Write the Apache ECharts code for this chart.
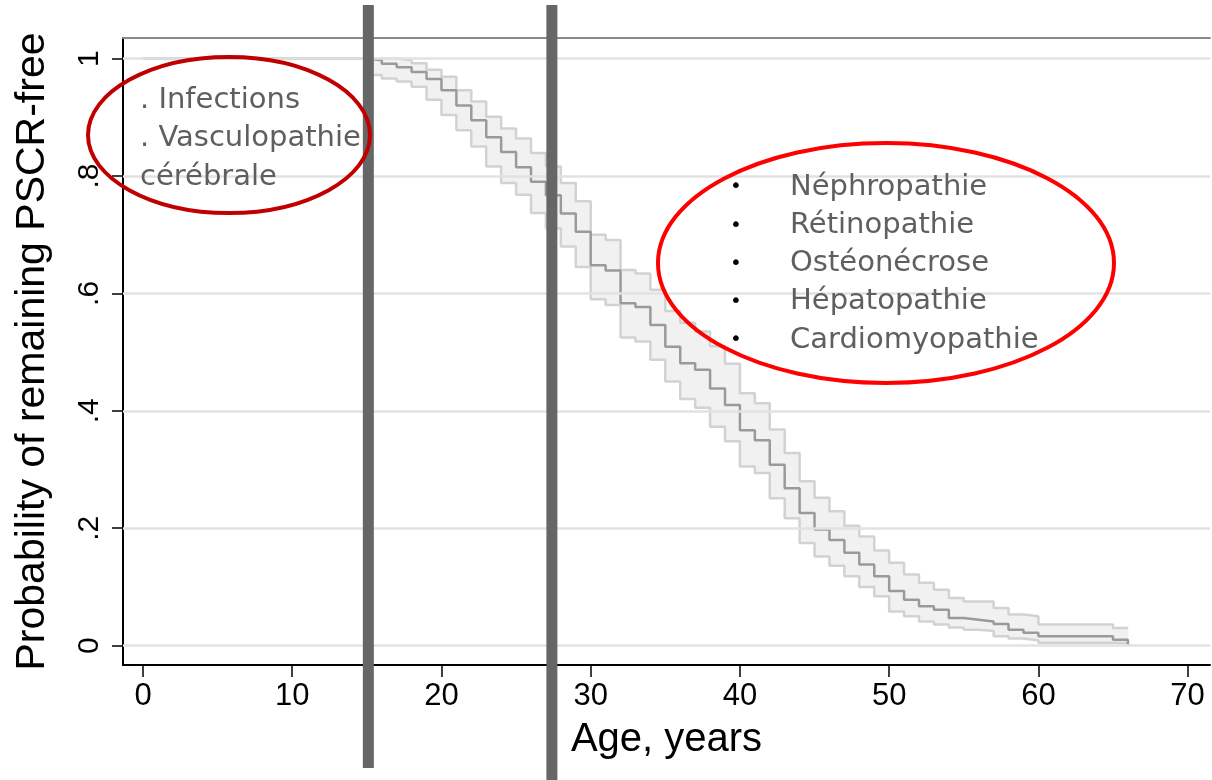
<!DOCTYPE html>
<html>
<head>
<meta charset="utf-8">
<script src="https://cdn.jsdelivr.net/npm/echarts@6/dist/echarts.min.js"></script>
<style>
  html, body { margin: 0; padding: 0; background: #fff; }
  #main { width: 1212px; height: 780px; }
</style>
</head>
<body>
<div id="main"></div>
<script>
// ages where the Kaplan-Meier curve steps (years)
var ages = [15, 16, 17, 18, 19, 20, 21, 22, 23, 24, 25, 26, 27, 28, 29, 30, 31, 32, 33, 34, 35,
  36, 37, 38, 39, 40, 41, 42, 43, 44, 45, 46, 47, 48, 49, 50, 51, 52, 53, 54, 55, 56, 57, 58,
  59, 60, 65, 66];
// survival estimate
var survival = [0.997, 0.991, 0.985, 0.977, 0.965, 0.946, 0.920, 0.895, 0.866, 0.841, 0.815, 0.790,
  0.767, 0.736, 0.705, 0.648, 0.639, 0.583, 0.577, 0.546, 0.509, 0.481, 0.470, 0.438, 0.410,
  0.367, 0.350, 0.308, 0.268, 0.226, 0.198, 0.180, 0.158, 0.138, 0.118, 0.093, 0.078, 0.067,
  0.061, 0.047, 0.044, 0.041, 0.037, 0.027, 0.022, 0.016, 0.010, 0.000];
// 95% confidence band
var upperCI = [1.000, 1.000, 0.997, 0.992, 0.981, 0.969, 0.946, 0.927, 0.901, 0.881, 0.864, 0.839,
  0.816, 0.788, 0.757, 0.700, 0.691, 0.640, 0.634, 0.606, 0.570, 0.550, 0.535, 0.510, 0.480,
  0.430, 0.413, 0.368, 0.328, 0.280, 0.252, 0.229, 0.204, 0.186, 0.162, 0.141, 0.121, 0.107,
  0.095, 0.081, 0.075, 0.075, 0.064, 0.053, 0.050, 0.036, 0.030, 0.030];
var lowerCI = [0.972, 0.966, 0.961, 0.952, 0.930, 0.904, 0.878, 0.850, 0.816, 0.788, 0.768, 0.737,
  0.711, 0.680, 0.645, 0.590, 0.580, 0.525, 0.518, 0.487, 0.450, 0.420, 0.405, 0.373, 0.348,
  0.305, 0.294, 0.251, 0.217, 0.175, 0.152, 0.136, 0.118, 0.100, 0.084, 0.058, 0.050, 0.041,
  0.036, 0.031, 0.027, 0.025, 0.016, 0.012, 0.009, 0.005, 0.004, 0.004];

var xTicks = [0, 10, 20, 30, 40, 50, 60, 70];
var yTicks = [0, 0.2, 0.4, 0.6, 0.8, 1];
var yTickLabels = ['0', '.2', '.4', '.6', '.8', '1'];

// the two age cut-offs (thick grey bars)
var cutAges = [15.1, 27.4];

var leftNotes = ['. Infections', '. Vasculopathie', 'cérébrale'];
var rightNotes = ['Néphropathie', 'Rétinopathie', 'Ostéonécrose', 'Hépatopathie', 'Cardiomyopathie'];

var myChart = echarts.init(document.getElementById('main'));

var mainData = [[0, 1]];
ages.forEach(function (a, i) { mainData.push([a, survival[i]]); });
var lowerData = ages.map(function (a, i) { return [a, lowerCI[i]]; });
var upperData = ages.map(function (a, i) { return [a, upperCI[i]]; });
// one band cell per step: [start age, end age, lower, upper]
var bandData = [];
for (var i = 0; i < ages.length - 1; i++) {
  bandData.push([ages[i], ages[i + 1], lowerCI[i], upperCI[i]]);
}

var xMin = -1.34, xMax = 71.5;
var yMin = -0.033, yMax = 1.035;

var option = {
  animation: false,
  grid: { left: 123, top: 38, right: 2, bottom: 115 },
  xAxis: [{
    type: 'value', min: xMin, max: xMax,
    name: 'Age, years', nameLocation: 'middle', nameGap: 55,
    nameTextStyle: { fontFamily: 'Liberation Sans', fontSize: 40, color: '#000' },
    axisLine: { show: true, onZero: false, lineStyle: { color: '#000', width: 2 } },
    axisTick: { show: true, length: 12, customValues: xTicks, lineStyle: { color: '#000', width: 1.5 } },
    axisLabel: { customValues: xTicks, margin: 16, fontFamily: 'Liberation Sans', fontSize: 31, color: '#000' },
    splitLine: { show: false }
  }, {
    type: 'value', min: xMin, max: xMax, position: 'top',
    axisLine: { show: true, onZero: false, lineStyle: { color: '#8a8a8a', width: 2 } },
    axisTick: { show: false }, axisLabel: { show: false }, splitLine: { show: false }
  }],
  yAxis: {
    type: 'value', min: yMin, max: yMax,
    name: 'Probability of remaining PSCR-free', nameLocation: 'middle', nameGap: 70, nameRotate: 90,
    nameTextStyle: { fontFamily: 'Liberation Sans', fontSize: 41, color: '#000' },
    axisLine: { show: true, onZero: false, lineStyle: { color: '#000', width: 2 } },
    axisTick: { show: true, length: 11, customValues: yTicks, lineStyle: { color: '#000', width: 1.5 } },
    axisLabel: {
      customValues: yTicks, rotate: 90, margin: 18,
      fontFamily: 'Liberation Sans', fontSize: 30, color: '#000',
      formatter: function (v) {
        for (var i = 0; i < yTicks.length; i++) {
          if (Math.abs(yTicks[i] - v) < 1e-6) return yTickLabels[i];
        }
        return '';
      }
    },
    splitLine: { show: false }
  },
  series: [
    {
      // gridlines
      type: 'line', data: [], z: 1, silent: true,
      markLine: {
        silent: true, symbol: 'none', label: { show: false },
        lineStyle: { color: '#e2e2e2', width: 2.5, type: 'solid' },
        data: yTicks.map(function (v) { return { yAxis: v }; })
      }
    },
    {
      // shaded confidence band
      type: 'custom', z: 2, silent: true, data: bandData,
      renderItem: function (params, api) {
        var p1 = api.coord([api.value(0), api.value(3)]);
        var p2 = api.coord([api.value(1), api.value(2)]);
        return {
          type: 'rect',
          shape: { x: p1[0] - 0.5, y: p1[1], width: p2[0] - p1[0] + 1, height: p2[1] - p1[1] },
          style: { fill: '#f1f1f1' }
        };
      }
    },
    {
      name: 'lower', type: 'line', step: 'end', z: 3,
      showSymbol: false, symbol: 'none', data: lowerData,
      lineStyle: { color: '#d2d2d2', width: 2.5 }
    },
    {
      name: 'upper', type: 'line', step: 'end', z: 3,
      showSymbol: false, symbol: 'none', data: upperData,
      lineStyle: { color: '#d2d2d2', width: 2.5 }
    },
    {
      name: 'survival', type: 'line', step: 'end', z: 4,
      showSymbol: false, symbol: 'none', data: mainData,
      lineStyle: { color: '#9a9a9a', width: 2.5 }
    }
  ]
};

myChart.setOption(option);

// annotations drawn on top
var graphics = [];
var barBottoms = [768, 780];
cutAges.forEach(function (a, i) {
  var px = myChart.convertToPixel({ xAxisIndex: 0 }, a);
  graphics.push({
    type: 'line', z: 100,
    shape: { x1: px, y1: 5, x2: px, y2: barBottoms[i] },
    style: { stroke: '#666666', lineWidth: 11 }
  });
});
graphics.push({
  type: 'ellipse', z: 101,
  shape: { cx: 229, cy: 135, rx: 141, ry: 78 },
  style: { fill: 'rgba(0,0,0,0)', stroke: '#c00000', lineWidth: 4 }
});
graphics.push({
  type: 'ellipse', z: 101,
  shape: { cx: 886, cy: 263, rx: 228, ry: 120 },
  style: { fill: 'rgba(0,0,0,0)', stroke: '#ff0000', lineWidth: 4 }
});
leftNotes.forEach(function (t, i) {
  graphics.push({
    type: 'text', z: 102, x: 140, y: 100 + i * 38.5,
    style: { text: t, fill: '#5f5f5f', font: '29px "DejaVu Sans"', textVerticalAlign: 'middle', textAlign: 'left' }
  });
});
rightNotes.forEach(function (t, i) {
  var y = 187 + i * 38.3;
  graphics.push({
    type: 'text', z: 102, x: 736, y: y,
    style: { text: '•', fill: '#000', font: '20px "DejaVu Sans"', textVerticalAlign: 'middle', textAlign: 'center' }
  });
  graphics.push({
    type: 'text', z: 102, x: 790, y: y,
    style: { text: t, fill: '#5f5f5f', font: '29px "DejaVu Sans"', textVerticalAlign: 'middle', textAlign: 'left' }
  });
});
myChart.setOption({ graphic: graphics });

window.addEventListener('resize', function () { myChart.resize(); });
</script>
</body>
</html>
